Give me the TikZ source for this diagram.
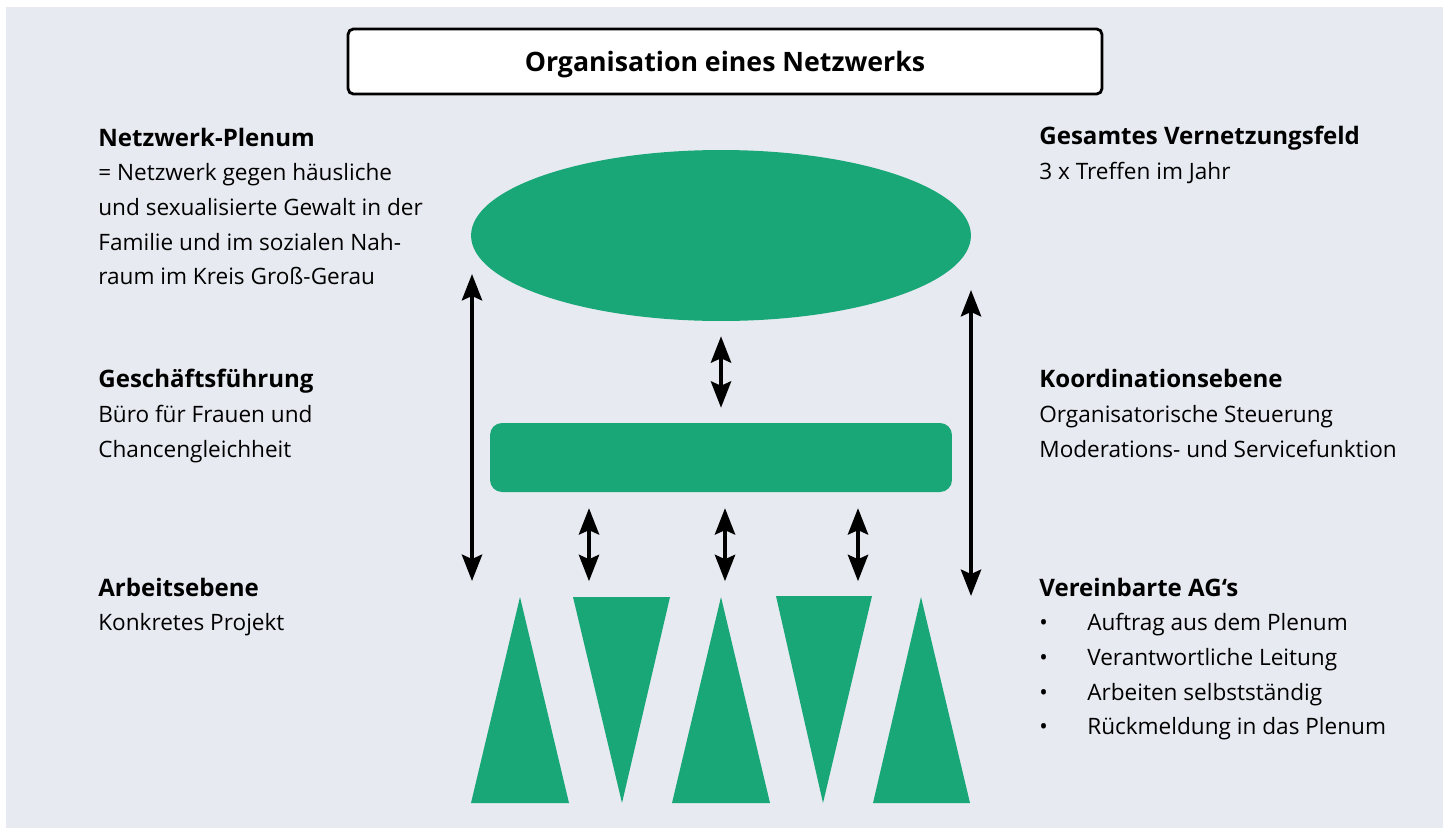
\documentclass[tikz,border=0pt]{standalone}
\usepackage{fontspec}
\setmainfont{Open Sans}
\usetikzlibrary{arrows.meta,shapes.geometric,positioning}

\definecolor{netgreen}{RGB}{25,167,119}
\definecolor{netback}{RGB}{231,234,241}

\newcommand{\blockhead}[1]{{\fontsize{13.7}{19.7}\selectfont\bfseries #1}}
\newcommand{\blockitem}{\makebox[27.3pt][l]{•}}

\tikzset{
  level/.style={fill=netgreen,draw=none,inner sep=0pt},
  link/.style={line width=2.2pt,
    {Stealth[length=15pt,width=11.5pt,inset=2.5pt]}-{Stealth[length=15pt,width=11.5pt,inset=2.5pt]}},
  info/.style={anchor=base west,align=left,inner sep=0pt,
    font=\fontsize{12.85}{19.7}\selectfont},
}

\begin{document}
\begin{tikzpicture}[x=0.02cm,y=-0.02cm]
    \useasboundingbox (0,0) rectangle (1449,835);
    \fill[netback] (6,7) rectangle (1443,828);
    %% title
    \node[draw,line width=1.6pt,rounded corners=3pt,fill=white,
      minimum width=15.08cm,minimum height=1.3cm,inner sep=0pt,
      text height=10.9pt,text depth=0pt,
      font=\fontsize{15.2}{18}\selectfont\bfseries] (title) at (725,61.5)
      {Organisation eines Netzwerks};
    %% levels
    \node[level,ellipse,minimum width=10cm,minimum height=3.42cm] (plenum) at (721,235.5) {};
    \node[level,rectangle,rounded corners=6.8pt,minimum width=9.24cm,minimum height=1.38cm] (koord) at (721,457.5) {};
    \fill[netgreen] (471,803) -- (520,597) -- (569,803) -- cycle;
    \fill[netgreen] (573,597) -- (670,597) -- (622,803) -- cycle;
    \fill[netgreen] (672,803) -- (721,597) -- (770,803) -- cycle;
    \fill[netgreen] (776,596) -- (872,596) -- (823,803) -- cycle;
    \fill[netgreen] (873,803) -- (921,597) -- (970,803) -- cycle;
    %% arrows
    \coordinate (ag1) at (589,597);
    \coordinate (ag2) at (725,597);
    \coordinate (ag3) at (858,597);
    \coordinate (lefttop) at (472,274);
    \coordinate (leftbot) at (472,581);
    \coordinate (righttop) at (971,290);
    \coordinate (rightbot) at (971,596);
    \draw[link,shorten <=8.5pt,shorten >=8.5pt] (plenum.south) -- (koord.north);
    \foreach \g in {ag1,ag2,ag3}
      \draw[link,shorten <=9pt,shorten >=9pt] (koord.south -| \g) -- (\g);
    \draw[link] (lefttop) -- (leftbot);
    \draw[link] (righttop) -- (rightbot);
    %% left texts (placed at the baseline of the last line)
    \node[info] (plenumtext) at (98,284.7) {\blockhead{Netzwerk-Plenum}\\
      = Netzwerk gegen häusliche\\
      und sexualisierte Gewalt in der\\
      Familie und im sozialen Nah-\\
      raum im Kreis Groß-Gerau};
    \node[info] (gftext) at (98,457) {\blockhead{Geschäftsführung}\\
      Büro für Frauen und\\
      Chancengleichheit};
    \node[info] (agtext) at (98,630.7) {\blockhead{Arbeitsebene}\\
      Konkretes Projekt};
    %% right texts
    \node[info] (feldtext) at (1039,179) {\blockhead{Gesamtes Vernetzungsfeld}\\
      3 x Treffen im Jahr};
    \node[info] (koordtext) at (1039,457) {\blockhead{Koordinationsebene}\\
      Organisatorische Steuerung\\
      Moderations- und Servicefunktion};
    \node[info] (listtext) at (1039,734.7) {\blockhead{Vereinbarte AG‘s}\\
      \blockitem Auftrag aus dem Plenum\\
      \blockitem Verantwortliche Leitung\\
      \blockitem Arbeiten selbstständig\\
      \blockitem Rückmeldung in das Plenum};
\end{tikzpicture}
\end{document}
